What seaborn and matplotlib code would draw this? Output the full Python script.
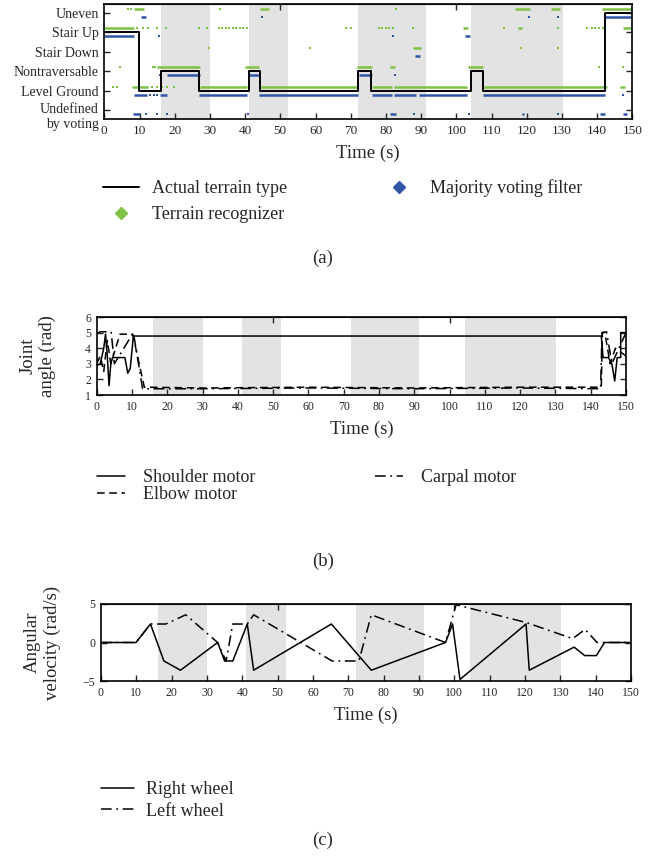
import numpy as np
import pandas as pd
import matplotlib
matplotlib.use("Agg")
import matplotlib.pyplot as plt
import seaborn as sns
from matplotlib.lines import Line2D
from matplotlib.transforms import ScaledTranslation

sns.set_style("ticks")
plt.rcParams['font.family'] = ['Liberation Serif', 'DejaVu Serif']

# gray time windows (s), same in all panels
shade_start = [16.0, 41.1, 72.1, 104.3]
shade_end = [30.1, 52.3, 91.4, 130.2]

# ---------------- (a) terrain classification ----------------
terrain_labels = ["Undefined\nby voting", "Level Ground", "Nontraversable",
                  "Stair Down", "Stair Up", "Uneven"]

actual_t = [0, 9.8, 16.2, 27.0, 41.1, 44.1, 72.1, 75.9, 104.3, 107.5, 142.3, 150]
actual_lvl = [4, 1, 2, 1, 2, 1, 2, 1, 2, 1, 5, 5]

# terrain recognizer: continuous runs (start, end, class) and single detections
green_runs = [(8.5, 11.3, 5), (44.2, 46.8, 5), (116.7, 120.9, 5), (127.0, 129.4, 5), (141.3, 150, 5),
              (0, 8.3, 4), (102.0, 103.4, 4), (117.6, 118.7, 4), (147.4, 150, 4),
              (87.6, 89.9, 3),
              (15.0, 27.1, 2), (40.1, 43.9, 2), (71.7, 76.0, 2), (81.1, 82.6, 2), (103.2, 107.5, 2),
              (7.8, 12.3, 1), (27.1, 40.6, 1), (44.2, 72.1, 1), (76.0, 81.6, 1), (82.4, 103.0, 1),
              (107.2, 142.7, 1), (146.5, 148.0, 1)]
green_dots_t = [6.8, 7.5, 9.2, 11.0, 12.5, 15.0, 17.6, 27.0, 29.2, 32.5, 33.5, 34.5, 35.5, 36.5,
                37.5, 38.5, 39.5, 40.5, 68.8, 70.0, 78.0, 79.0, 80.0, 81.0, 82.0, 87.8, 113.5,
                129.0, 137.0, 138.5, 139.5, 140.5, 141.8, 33.0, 82.8,
                29.7, 58.5, 118.4, 129.0,
                4.5, 13.8, 14.4, 140.6, 147.4,
                2.5, 3.5, 13.5, 15.0, 16.5, 17.8, 19.7]
green_dots_lvl = [5, 5, 4, 4, 4, 4, 4, 4, 4, 4, 4, 4, 4, 4,
                  4, 4, 4, 4, 4, 4, 4, 4, 4, 4, 4, 4, 4,
                  4, 4, 4, 4, 4, 4, 5, 5,
                  3, 3, 3, 3,
                  2, 2, 2, 2, 2,
                  1, 1, 1, 1, 1, 1, 1]

# majority voting filter
blue_runs = [(10.4, 11.8, 5), (142.2, 150, 5),
             (0, 8.3, 4), (102.5, 103.9, 4),
             (88.2, 89.7, 3),
             (17.8, 27.1, 2), (41.1, 43.9, 2), (72.3, 76.0, 2),
             (8.3, 12.1, 1), (15.9, 17.8, 1), (27.0, 40.6, 1), (43.9, 72.0, 1), (76.0, 81.6, 1),
             (82.4, 88.5, 1), (89.3, 103.0, 1), (107.5, 142.2, 1),
             (8.1, 10.0, 0), (81.1, 83.0, 0), (118.8, 119.3, 0), (140.8, 142.2, 0), (147.4, 148.4, 0)]
blue_dots_t = [44.7, 120.6, 129.0, 15.6, 82.1, 15.9, 82.6, 13.0, 14.0, 15.0, 147.4,
               11.8, 14.9, 17.8, 40.8, 88.0, 103.7, 129.0]
blue_dots_lvl = [5, 5, 5, 4, 4, 2, 2, 1, 1, 1, 1,
                 0, 0, 0, 0, 0, 0, 0]

# ---------------- (b) joint angles ----------------
shoulder_t = [0, 1.0, 2.0, 2.5, 3.0, 3.5, 4.0, 4.5, 5.2, 8.0, 8.8, 9.5, 10.4, 143.0, 143.5,
              145.0, 146.0, 146.8, 147.5, 148.5, 148.5, 150]
shoulder_v = [2.9, 3.0, 4.0, 4.9, 3.5, 1.6, 3.0, 3.4, 3.4, 3.4, 2.4, 2.7, 4.78, 4.78, 3.4,
              3.4, 3.0, 1.9, 3.4, 3.4, 5.0, 5.0]
elbow_t = [0, 1.0, 2.0, 3.0, 4.0, 6.6, 10.2, 13.5, 30, 60, 90, 120, 143.0, 143.3, 144.0, 145.5, 147.0, 150]
elbow_v = [3.0, 3.5, 2.5, 4.5, 3.0, 4.9, 4.9, 1.5, 1.45, 1.5, 1.45, 1.5, 1.5, 5.0, 5.0, 3.0, 4.0, 3.5]
carpal_t = [0, 0.9, 4.1, 5.0, 10.4, 13.0, 30, 60, 90, 120, 142.8, 143.2, 144.5, 146.0, 148.0, 150]
carpal_v = [4.9, 5.05, 5.05, 3.0, 5.0, 1.4, 1.4, 1.45, 1.4, 1.45, 1.4, 5.0, 5.05, 3.0, 4.0, 5.0]

# ---------------- (c) wheel velocities ----------------
right_t = [0, 9.9, 14.0, 17.8, 22.5, 33.0, 35.0, 37.3, 41.4, 43.2, 65.2, 76.5, 97.5, 99.5,
           101.6, 120.3, 121.2, 133.9, 136.9, 140.2, 142.5, 150]
right_v = [0, 0, 2.4, -2.4, -3.6, 0, -2.4, -2.4, 2.4, -3.6, 2.4, -3.6, 0, 2.4,
           -4.8, 2.4, -3.6, -0.6, -1.7, -1.7, 0, 0]
left_t = [0, 9.9, 14.0, 18.3, 24.0, 33.0, 35.4, 37.3, 41.4, 43.2, 65.4, 73.0, 76.5, 97.5,
          100.5, 120.3, 133.5, 137.0, 140.4, 150]
left_v = [0, 0, 2.4, 2.4, 3.6, 0, -2.4, 2.4, 2.4, 3.6, -2.4, -2.4, 3.6, 0,
          4.9, 2.6, 0.5, 1.7, 0, 0]

green = '#7dc243'
blue = '#2f56a6'
dashdot = (0, (7, 3, 1.2, 3))
dashed = (0, (5, 3))
big = 13.5
leg_fs = 13

fig = plt.figure(figsize=(6.6, 8.58), dpi=100)
W, H = 660.0, 858.0


def add_panel(x0, x1, y0, y1):
    return fig.add_axes([x0 / W, 1 - y1 / H, (x1 - x0) / W, (y1 - y0) / H])


def style_axes(ax, fs):
    for t0, t1 in zip(shade_start, shade_end):
        ax.axvspan(t0, t1, color='#e3e3e3', lw=0, zorder=0)
    ax.set_xlim(0, 150)
    ax.set_xticks(np.arange(0, 151, 10))
    ax.tick_params(direction='in', right=True, length=4, width=1, labelsize=fs, pad=4)
    for s in ax.spines.values():
        s.set_linewidth(1.2)
        s.set_color('black')
    top = ax.secondary_xaxis('top')
    top.set_xticks([50, 100])
    top.set_xticklabels([])
    top.tick_params(direction='in', length=4, width=1)
    ax.set_xlabel("Time (s)", fontsize=big, labelpad=6)


# ---- panel (a)
ax = add_panel(104.3, 632.3, 4, 119)
style_axes(ax, 9.5)
for s, e, lvl in green_runs:
    ax.hlines(lvl + 0.2, s, e, color=green, lw=1.8, zorder=2)
for s, e, lvl in blue_runs:
    ax.hlines(lvl - 0.2, s, e, color=blue, lw=1.8, zorder=2)
gd = pd.DataFrame({'t': green_dots_t, 'y': np.array(green_dots_lvl) + 0.2})
bd = pd.DataFrame({'t': blue_dots_t, 'y': np.array(blue_dots_lvl) - 0.2})
sns.scatterplot(data=gd, x='t', y='y', color=green, marker='s', s=3, linewidth=0, ax=ax, zorder=2)
sns.scatterplot(data=bd, x='t', y='y', color=blue, marker='s', s=3, linewidth=0, ax=ax, zorder=2)
sns.lineplot(x=actual_t, y=actual_lvl, drawstyle='steps-post', color='black', lw=1.4,
             estimator=None, sort=False, ax=ax, zorder=3)
ax.set_ylim(-0.46, 5.46)
ax.set_yticks(range(6))
ax.set_yticklabels(terrain_labels, fontsize=10)
for lbl in ax.get_yticklabels():
    lbl.set_multialignment('right')
lbl0 = ax.get_yticklabels()[0]
lbl0.set_transform(lbl0.get_transform() + ScaledTranslation(0, -3 / 72, fig.dpi_scale_trans))
ax.set_ylabel("")

handles_a = [Line2D([], [], color='black', lw=1.4),
             Line2D([], [], color=green, marker='D', ls='none', ms=6.5),
             Line2D([], [], color=blue, marker='D', ls='none', ms=6.5)]
fig.legend(handles_a, ["Actual terrain type", "Terrain recognizer", "Majority voting filter"],
           ncol=2, loc='upper left', bbox_to_anchor=(87 / W, 1 - 163 / H), frameon=False,
           fontsize=leg_fs, handlelength=2.0, handletextpad=0.7, columnspacing=5.2, labelspacing=0.5)
fig.text(323 / W, 1 - 258 / H, "(a)", ha='center', va='center', fontsize=big)

# ---- panel (b)
ax = add_panel(96.7, 626, 317, 395)
style_axes(ax, 8.5)
sns.lineplot(x=shoulder_t, y=shoulder_v, color='black', lw=1.1, estimator=None, sort=False, ax=ax)
sns.lineplot(x=elbow_t, y=elbow_v, color='black', lw=1.1, ls=dashed, estimator=None, sort=False, ax=ax)
sns.lineplot(x=carpal_t, y=carpal_v, color='black', lw=1.1, ls=dashdot, estimator=None, sort=False, ax=ax)
ax.set_ylim(1, 6)
ax.set_yticks(range(1, 7))
ax.set_ylabel("Joint\nangle (rad)", fontsize=big)
ax.yaxis.set_label_coords(-0.076, 0.5)
handles_b = [Line2D([], [], color='black', lw=1.1),
             Line2D([], [], color='black', lw=1.1, ls=dashed),
             Line2D([], [], color='black', lw=1.1, ls=dashdot)]
fig.legend(handles_b, ["Shoulder motor", "Elbow motor", "Carpal motor"],
           ncol=2, loc='upper left', bbox_to_anchor=(81 / W, 1 - 453 / H), frameon=False,
           fontsize=leg_fs, handlelength=1.55, handletextpad=1.0, columnspacing=6.6, labelspacing=0.0)
fig.text(323 / W, 1 - 561 / H, "(b)", ha='center', va='center', fontsize=big)

# ---- panel (c)
ax = add_panel(101, 631, 604, 681)
style_axes(ax, 8.5)
sns.lineplot(x=right_t, y=right_v, color='black', lw=1.1, estimator=None, sort=False, ax=ax)
sns.lineplot(x=left_t, y=left_v, color='black', lw=1.1, ls=dashdot, estimator=None, sort=False, ax=ax)
ax.set_ylim(-5, 5)
ax.set_yticks([-5, 0, 5])
ax.set_ylabel("Angular\nvelocity (rad/s)", fontsize=big)
ax.yaxis.set_label_coords(-0.076, 0.5)
handles_c = [Line2D([], [], color='black', lw=1.1),
             Line2D([], [], color='black', lw=1.1, ls=dashdot)]
fig.legend(handles_c, ["Right wheel", "Left wheel"], loc='upper left',
           bbox_to_anchor=(85 / W, 1 - 765 / H), frameon=False,
           fontsize=leg_fs, handlelength=1.8, handletextpad=0.7, labelspacing=0.25)
fig.text(323 / W, 1 - 840 / H, "(c)", ha='center', va='center', fontsize=big)

fig.savefig("out.png", dpi=100)
